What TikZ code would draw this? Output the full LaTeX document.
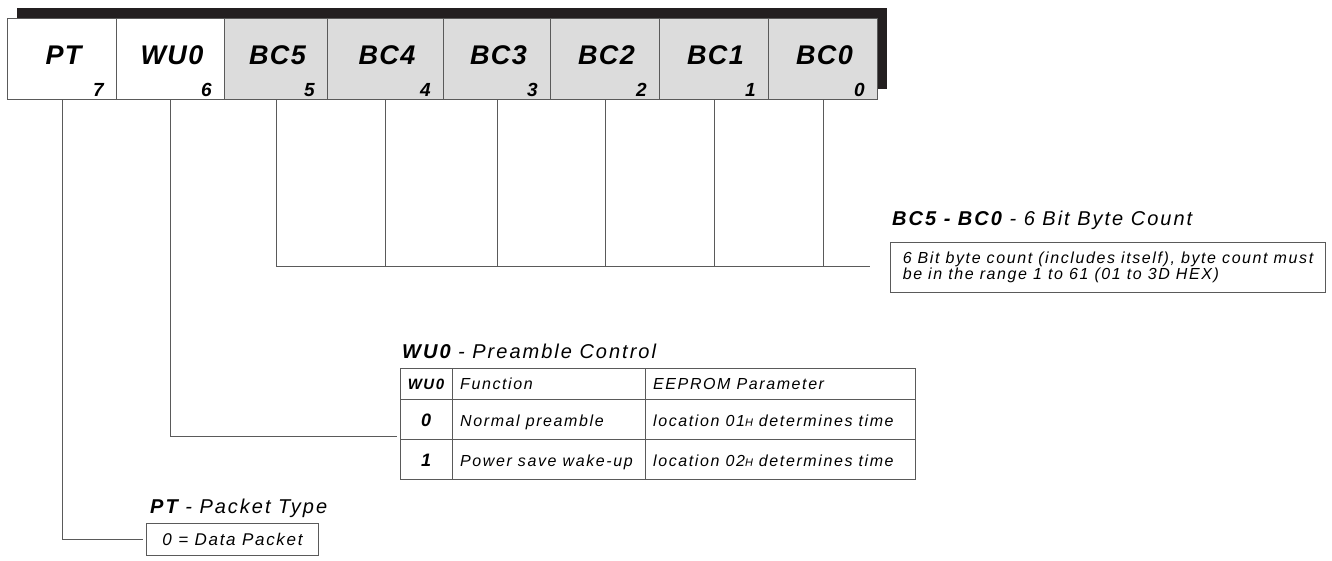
\documentclass[tikz,border=0pt]{standalone}
\usepackage{fontspec}
\setmainfont{Liberation Sans}
\newfontfamily\spfont[LetterSpace=10]{Liberation Sans}
\newfontfamily\regfont[LetterSpace=5]{Liberation Sans}
\definecolor{cellgray}{HTML}{DCDCDC}
\definecolor{linegray}{HTML}{5A5A5A}
\definecolor{shadowc}{HTML}{231F20}
\tikzset{
  cell/.style={draw=linegray, line width=1pt, minimum height=81pt, inner sep=0pt, anchor=north west},
  regname/.style={font=\fontsize{27}{30}\selectfont\regfont\bfseries\itshape, inner sep=0pt},
  bitnum/.style={font=\fontsize{19}{22}\selectfont\bfseries\itshape, anchor=base east, inner sep=0pt},
  conn/.style={draw=linegray, line width=1pt},
  titletext/.style={anchor=base west, inner sep=0pt, font=\fontsize{20}{24}\selectfont\spfont\itshape},
  descbox/.style={draw=linegray, line width=1pt, anchor=north west, align=left, inner xsep=7pt, inner ysep=0pt, font=\fontsize{16}{16}\selectfont\spfont\itshape},
  tcell/.style={draw=linegray, line width=1pt, anchor=north west, inner sep=0pt},
  ttext/.style={font=\fontsize{16}{18}\selectfont\spfont\itshape, anchor=base west, inner sep=0pt},
  tnum/.style={font=\fontsize{18}{20}\selectfont\bfseries\itshape, anchor=base, inner sep=0pt}
}
\newcommand{\subH}{{\fontsize{11}{12}\selectfont H}}
\begin{document}
\begin{tikzpicture}[x=1pt,y=-1pt]
\useasboundingbox (0,0) rectangle (1332,561);
% shadow of the register
\fill[shadowc] (17,8) rectangle (887,89);
% register cells
\foreach \xl/\xr/\nm/\bt/\fc in {7/116/PT/7/white,116/224/WU0/6/white,224/327/BC5/5/cellgray,327/443/BC4/4/cellgray,443/550/BC3/3/cellgray,550/659/BC2/2/cellgray,659/768/BC1/1/cellgray,768/877/BC0/0/cellgray}{
  \pgfmathsetmacro\cw{\xr-\xl}
  \node[cell, fill=\fc, minimum width=\cw pt] (c\bt) at (\xl,18) {};
  \node[regname] (n\bt) at ({\xl+\cw/2+2},55) {\nm};
  \node[bitnum] (b\bt) at ({\xr-12},97) {\bt};
}
% connectors
\coordinate (bcend) at (870,266);
\draw[conn] (c5.south) |- (bcend);
\foreach \bt in {4,3,2,1,0}{
  \draw[conn] (c\bt.south) -- (c\bt.south |- bcend);
}
% BC description
\node[titletext] (bctitle) at (892,226) {{\bfseries BC5 - BC0} - 6 Bit Byte Count};
\node[descbox, minimum width=435pt, minimum height=50pt] (bcbox) at (890,242) {6 Bit byte count (includes itself), byte count must\\be in the range 1 to 61 (01 to 3D HEX)};
% WU0 table
\node[titletext] (wutitle) at (402,358) {{\bfseries WU0} - Preamble Control};
\node[tcell, minimum width=52pt, minimum height=31pt] (h1) at (400,368) {};
\node[tcell, minimum width=193pt, minimum height=31pt] (h2) at (452,368) {};
\node[tcell, minimum width=270pt, minimum height=31pt] (h3) at (645,368) {};
\node[tcell, minimum width=52pt, minimum height=40pt] (r01) at (400,399) {};
\node[tcell, minimum width=193pt, minimum height=40pt] (r02) at (452,399) {};
\node[tcell, minimum width=270pt, minimum height=40pt] (r03) at (645,399) {};
\node[tcell, minimum width=52pt, minimum height=40pt] (r11) at (400,439) {};
\node[tcell, minimum width=193pt, minimum height=40pt] (r12) at (452,439) {};
\node[tcell, minimum width=270pt, minimum height=40pt] (r13) at (645,439) {};
\node[tnum, font=\fontsize{15}{18}\selectfont\spfont\bfseries\itshape] (th1) at (426,389) {WU0};
\node[ttext] (th2) at (460,389) {Function};
\node[ttext] (th3) at (653,389) {EEPROM Parameter};
\node[tnum] (t01) at (426,426) {0};
\node[ttext] (t02) at (460,426) {Normal preamble};
\node[ttext] (t03) at (653,426) {location 01\subH{} determines time};
\node[tnum] (t11) at (426,466) {1};
\node[ttext] (t12) at (460,466) {Power save wake-up};
\node[ttext] (t13) at (653,466) {location 02\subH{} determines time};
\coordinate (wuend) at (397,436);
\draw[conn] (c6.south) |- (wuend);
% PT description
\node[titletext] (pttitle) at (150,513) {{\bfseries PT} - Packet Type};
\node[descbox, font=\fontsize{17}{18}\selectfont\spfont\itshape, minimum width=172pt, minimum height=32pt] (ptbox) at (146,523) {0 = Data Packet};
\draw[conn] (c7.south) |- ([xshift=-3pt]ptbox.west);
\end{tikzpicture}
\end{document}
